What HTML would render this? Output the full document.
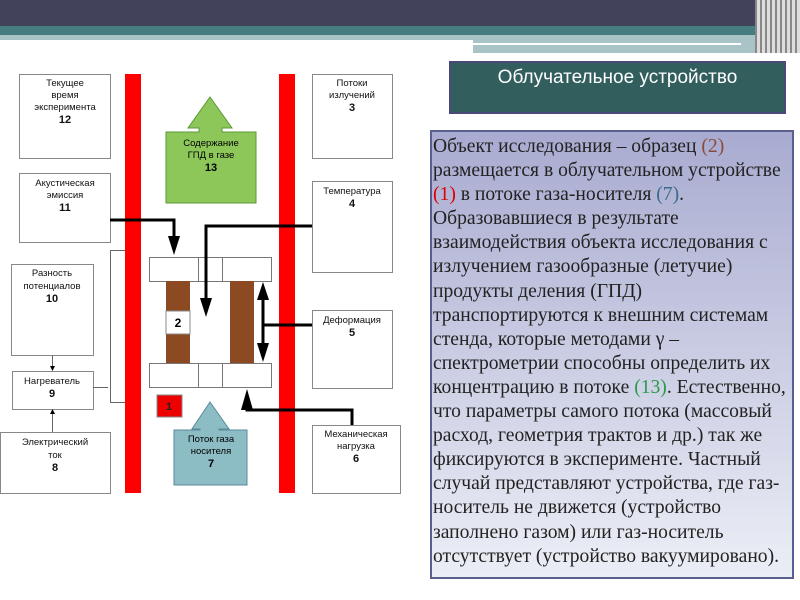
<!DOCTYPE html>
<html><head><meta charset="utf-8"><style>
body{margin:0;width:800px;height:600px;overflow:hidden;background:#fff;position:relative;font-family:"Liberation Sans",sans-serif}
.txt{position:absolute;left:430px;top:130px;width:364px;height:449px;border:2px solid #5a5f8f;background:linear-gradient(#a8abd0,#eceef6);font-family:"Liberation Serif",serif;font-size:19.6px;line-height:24.1px;color:#222;padding:3px 0 0 1px;box-sizing:border-box;white-space:nowrap;overflow:hidden}
.title{position:absolute;left:449px;top:61px;width:337px;height:53px;background:#335e5e;border:2px solid #4a4a78;box-sizing:border-box;color:#fff;font-size:19px;text-align:center;padding-top:4px}
</style></head><body>
<div style="position:absolute;left:0;top:0;width:800px;height:26px;background:#42425a"></div>
<div style="position:absolute;left:0;top:26px;width:800px;height:9px;background:#467d80"></div>
<div style="position:absolute;left:0;top:35px;width:800px;height:5px;background:#a9c4c6"></div>
<div style="position:absolute;left:473px;top:40px;width:320px;height:13px;background:#a9c4c6"></div>
<div style="position:absolute;left:473px;top:43px;width:268px;height:2px;background:#fff"></div>
<div style="position:absolute;left:755px;top:0;width:45px;height:53px;background:repeating-linear-gradient(90deg,#888 0 2px,#ddd 2px 5px)"></div>
<div class="title">Облучательное устройство</div>
<div class="txt">Объект исследования – образец <span style="color:#8b4a3a">(2)</span><br>размещается в облучательном устройстве<br><span style="color:#d00">(1)</span> в потоке газа-носителя <span style="color:#3a6a8a">(7)</span>.<br>Образовавшиеся в результате<br>взаимодействия объекта исследования с<br>излучением газообразные (летучие)<br>продукты деления (ГПД)<br>транспортируются к внешним системам<br>стенда, которые методами γ –<br>спектрометрии способны определить их<br>концентрацию в потоке <span style="color:#2a9a4a">(13)</span>. Естественно,<br>что параметры самого потока (массовый<br>расход, геометрия трактов и др.) так же<br>фиксируются в эксперименте. Частный<br>случай представляют устройства, где газ-<br>носитель не движется (устройство<br>заполнено газом) или газ-носитель<br>отсутствует (устройство вакуумировано).</div>
<svg width="420" height="600" style="position:absolute;left:0;top:0" font-family="Liberation Sans, sans-serif" font-size="9.5" text-anchor="middle">
<g fill="#fff" stroke="#888" stroke-width="1">
<rect x="19.5" y="74.5" width="91" height="84"/>
<rect x="312.5" y="74.5" width="80" height="84"/>
<rect x="19.5" y="173.5" width="91" height="69"/>
<rect x="312.5" y="181.5" width="80" height="91"/>
<rect x="11.5" y="264.5" width="82" height="91"/>
<rect x="312.5" y="310.5" width="80" height="78"/>
<rect x="12.5" y="371.5" width="81" height="38"/>
<rect x="0.5" y="432.5" width="110" height="61"/>
<rect x="312.5" y="425.5" width="88" height="68"/>
</g>
<g fill="#111">
<text x="65" y="86">Текущее</text><text x="65" y="98">время</text><text x="65" y="110">эксперимента</text><text x="65" y="123" font-size="11" font-weight="bold">12</text>
<text x="352" y="86">Потоки</text><text x="352" y="98">излучений</text><text x="352" y="111" font-size="11" font-weight="bold">3</text>
<text x="65" y="186">Акустическая</text><text x="65" y="198">эмиссия</text><text x="65" y="211" font-size="11" font-weight="bold">11</text>
<text x="352" y="194">Температура</text><text x="352" y="207" font-size="11" font-weight="bold">4</text>
<text x="52" y="276">Разность</text><text x="52" y="289">потенциалов</text><text x="52" y="302" font-size="11" font-weight="bold">10</text>
<text x="352" y="323">Деформация</text><text x="352" y="336" font-size="11" font-weight="bold">5</text>
<text x="52" y="384">Нагреватель</text><text x="52" y="397" font-size="11" font-weight="bold">9</text>
<text x="55" y="445">Электрический</text><text x="55" y="458">ток</text><text x="55" y="471" font-size="11" font-weight="bold">8</text>
<text x="356" y="437">Механическая</text><text x="356" y="449">нагрузка</text><text x="356" y="462" font-size="11" font-weight="bold">6</text>
</g>
<rect x="125" y="74" width="16" height="419" fill="#f00"/>
<rect x="279" y="74" width="16" height="419" fill="#f00"/>
<path d="M210 97 L232 128 L222 128 L222 132 L256 132 L256 203 L166 203 L166 132 L199 132 L199 128 L188 128 Z" fill="#8dc75a" stroke="#5a9a3a"/>
<text x="211" y="146">Содержание</text><text x="211" y="158">ГПД в газе</text><text x="211" y="171" font-size="11" font-weight="bold">13</text>
<path d="M210 402 L229 429 L219 429 L219 430 L247 430 L247 485 L174 485 L174 430 L200 430 L200 429 L192 429 Z" fill="#8cbcc4" stroke="#5a8a9a"/>
<text x="211" y="442">Поток газа</text><text x="211" y="454">носителя</text><text x="211" y="467" font-size="11" font-weight="bold">7</text>
<g fill="#fff" stroke="#777">
<rect x="149.5" y="257.5" width="122" height="24"/><line x1="198.5" y1="257" x2="198.5" y2="281"/><line x1="222.5" y1="257" x2="222.5" y2="281"/>
<rect x="149.5" y="363.5" width="122" height="24"/><line x1="198.5" y1="363" x2="198.5" y2="387"/><line x1="222.5" y1="363" x2="222.5" y2="387"/>
</g>
<rect x="166" y="281" width="24" height="82" fill="#8b4a22"/>
<rect x="230" y="281" width="24" height="82" fill="#8b4a22"/>
<rect x="166" y="311" width="24" height="23" fill="#fff" stroke="#888"/>
<text x="178" y="327" font-size="12" font-weight="bold">2</text>
<rect x="157" y="395" width="25" height="22" fill="#e00" stroke="#888"/>
<text x="169" y="410" font-size="11" font-weight="bold" fill="#222">1</text>
<g fill="none" stroke="#000" stroke-width="3">
<path d="M110 220 H174 V240"/>
<path d="M312 226 H206 V300"/>
<path d="M312 325 H263"/>
<path d="M263 295 V348"/>
<path d="M352 425 V410 H247 V400"/>
</g>
<g fill="none" stroke="#666" stroke-width="1">
<path d="M125 250.5 H110.5 V402.5 H125"/>
<path d="M52.5 355 V368"/><path d="M52.5 432 V412"/><path d="M93 387.5 H108"/>
</g>
<g fill="#000">
<path d="M168 236 H180 L174 255 Z"/>
<path d="M200 298 H212 L206 317 Z"/>
<path d="M257 300 H269 L263 282 Z"/>
<path d="M257 343 H269 L263 362 Z"/>
<path d="M241 410 H253 L247 389 Z"/>
<path d="M50 366 H55 L52.5 371 Z"/><path d="M50 414 H55 L52.5 409 Z"/>
</g>
</svg>
</body></html>
